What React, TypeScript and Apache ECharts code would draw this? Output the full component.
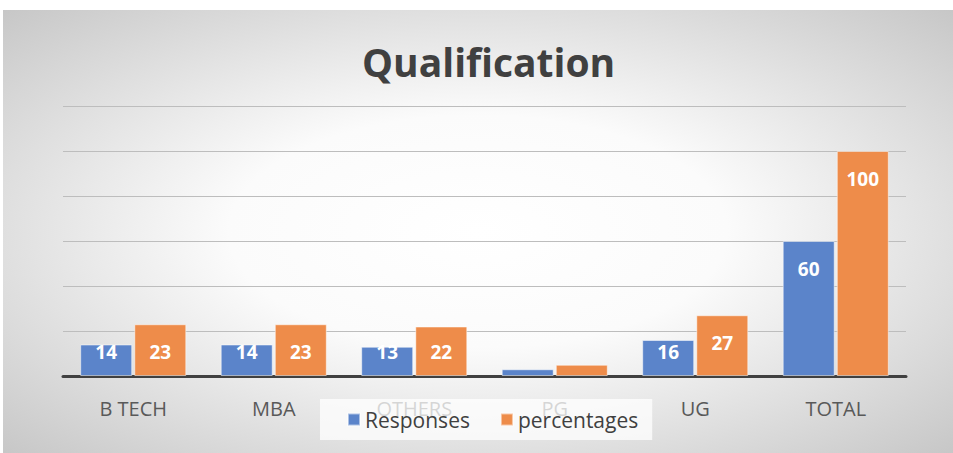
import React, { useEffect, useRef } from "react";
import * as echarts from "echarts";

const categories = ["B TECH", "MBA", "OTHERS", "PG", "UG", "TOTAL"];
const responses = [14, 14, 13, 3, 16, 60];
const percentages = [23, 23, 22, 5, 27, 100];
const yMax = 120;
const yInterval = 20;

const PX_PER_UNIT = 270 / yMax;

function withLabels(values: number[]) {
  return values.map((v) => {
    const h = v * PX_PER_UNIT;
    const dist = Math.min(18, h - 34);
    return {
      value: v,
      label: { show: v >= 10, position: "insideTop", distance: dist },
    };
  });
}

export default function App() {
  const ref = useRef<HTMLDivElement>(null);
  useEffect(() => {
    document.body.style.margin = "0";
    const chart = echarts.init(ref.current!, null, { renderer: "svg" });
    const labelStyle = {
      color: "#ffffff",
      fontWeight: "bold" as const,
      fontSize: 19,
      fontFamily: "Open Sans",
    };
    chart.setOption({
      animation: false,
      backgroundColor: {
        type: "radial",
        x: 0.5,
        y: 0.5,
        r: 0.75,
        colorStops: [
          { offset: 0, color: "#ffffff" },
          { offset: 0.35, color: "#fbfbfb" },
          { offset: 1, color: "#c2c2c2" },
        ],
      },
      title: {
        text: "Qualification",
        left: 354,
        top: 27,
        textStyle: {
          fontFamily: "Open Sans",
          fontWeight: "bold",
          fontSize: 39,
          color: "#404040",
        },
      },
      grid: { left: 60, right: 47, top: 96, bottom: 77 },
      legend: {
        data: ["Responses", "percentages"],
        bottom: 13,
        left: 317,
        itemWidth: 12,
        itemHeight: 12,
        itemGap: 30,
        icon: "rect",
        backgroundColor: "rgba(255,255,255,0.75)",
        padding: [10, 14, 10, 27],
        textStyle: { fontFamily: "Open Sans", fontSize: 21, color: "#404040" },
      },
      xAxis: {
        type: "category",
        data: categories,
        axisTick: { show: false },
        axisLine: { lineStyle: { color: "#404040", width: 3 } },
        axisLabel: {
          fontFamily: "Open Sans",
          fontSize: 20,
          color: "#595959",
          margin: 22,
        },
      },
      yAxis: {
        type: "value",
        min: 0,
        max: yMax,
        interval: yInterval,
        axisLabel: { show: false },
        axisLine: { show: false },
        axisTick: { show: false },
        splitLine: { lineStyle: { color: "#bdbdbd", width: 1.2 } },
      },
      series: [
        {
          name: "Responses",
          type: "bar",
          data: withLabels(responses),
          barWidth: 52,
          barGap: "4%",
          itemStyle: {
            color: "#5B84CA",
            borderColor: "rgba(255,255,255,0.5)",
            borderWidth: 1,
          },
          label: labelStyle,
        },
        {
          name: "percentages",
          type: "bar",
          data: withLabels(percentages),
          barWidth: 52,
          itemStyle: {
            color: "#EE8C4A",
            borderColor: "rgba(255,255,255,0.5)",
            borderWidth: 1,
          },
          label: labelStyle,
        },
      ],
    });
    return () => chart.dispose();
  }, []);
  return (
    <div style={{ width: 953, height: 453, background: "#ffffff", position: "relative" }}>
      <div
        ref={ref}
        style={{ position: "absolute", left: 3, top: 10, width: 950, height: 443 }}
      />
    </div>
  );
}
